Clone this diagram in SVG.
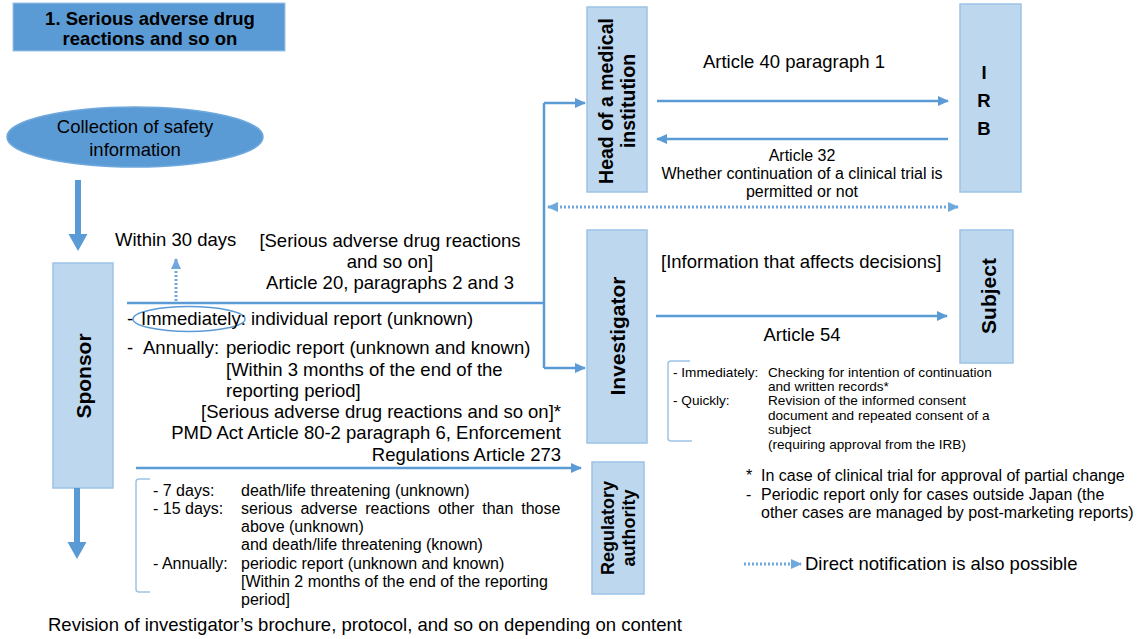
<svg xmlns="http://www.w3.org/2000/svg" width="1138" height="639" viewBox="0 0 1138 639">
<style>
text{font-family:"Liberation Sans",Arial,sans-serif;fill:#000}
.t{font-size:18.5px}
.s{font-size:16px}
.xs{font-size:13.6px}
.b{font-weight:bold}
.c{text-anchor:middle}
.e{text-anchor:end}
.box{fill:#bdd7ee;stroke:#9dc3e6;stroke-width:1.5}
.ln{fill:none;stroke:#5b9bd5;stroke-width:2.5}
.dot{fill:none;stroke:#6fa8dc;stroke-width:3;stroke-dasharray:2 2}
.br{fill:none;stroke:#9dc3e6;stroke-width:1.5}
</style>
<defs>
<marker id="ah" markerUnits="userSpaceOnUse" markerWidth="11" markerHeight="10" refX="10" refY="5" orient="auto-start-reverse">
<path d="M0,0 L11,5 L0,10 z" fill="#5b9bd5"/>
</marker>
<marker id="ahd" markerUnits="userSpaceOnUse" markerWidth="11" markerHeight="10" refX="10" refY="5" orient="auto-start-reverse">
<path d="M0,0 L11,5 L0,10 z" fill="#6fa8dc"/>
</marker>
</defs>
<rect width="1138" height="639" fill="#fff"/>

<g id="title">
<rect x="13" y="3" width="272" height="48" fill="#5b9bd5" stroke="#9dc3e6" stroke-width="1"/>
<text class="t b c" x="150" y="25">1. Serious adverse drug</text>
<text class="t b c" x="150" y="45">reactions and so on</text>
</g>

<g id="collection">
<ellipse cx="135" cy="137" rx="128" ry="30" fill="#5b9bd5" stroke="#6fa8dc" stroke-width="1.5"/>
<text class="t c" x="135" y="133">Collection of safety</text>
<text class="t c" x="135" y="156">information</text>
</g>

<g id="sponsor">
<rect class="box" x="53" y="263" width="60" height="225"/>
<text class="b c" font-size="21" transform="translate(83,376) rotate(-90)" y="7.5">Sponsor</text>
</g>

<g id="head">
<rect class="box" x="587" y="7" width="60" height="185"/>
<text class="b c" font-size="19.5" transform="translate(617,101) rotate(-90)" y="-4.5">Head of a medical</text>
<text class="b c" font-size="19.5" transform="translate(617,101) rotate(-90)" y="18">institution</text>
</g>

<g id="irb">
<rect class="box" x="960" y="4" width="61" height="188"/>
<text class="t b c" x="984" y="79">I</text>
<text class="t b c" x="984" y="107">R</text>
<text class="t b c" x="984" y="135">B</text>
</g>

<g id="investigator">
<rect class="box" x="587" y="230" width="60" height="213"/>
<text class="b c" font-size="21" transform="translate(617,336) rotate(-90)" y="7.5">Investigator</text>
</g>

<g id="subject">
<rect class="box" x="960" y="230" width="53" height="133"/>
<text class="b c" font-size="21" transform="translate(988,296) rotate(-90)" y="7.5">Subject</text>
</g>

<g id="regulatory">
<rect class="box" x="592" y="462" width="52" height="132"/>
<text class="b c" font-size="18" transform="translate(618,528) rotate(-90)" y="-4">Regulatory</text>
<text class="b c" font-size="18" transform="translate(618,528) rotate(-90)" y="16.5">authority</text>
</g>

<g id="connectors">
<path d="M75,180 H81 V234 H87.5 L78,251 L68.5,234 H75 Z" fill="#5b9bd5"/>
<path d="M74,488 H80 V542 H86.5 L77,559 L67.5,542 H74 Z" fill="#5b9bd5"/>
<path class="ln" d="M127,303 H544"/>
<path class="ln" d="M544,103 V368"/>
<path class="ln" d="M544,103 H585" marker-end="url(#ah)"/>
<path class="ln" d="M544,368 H585" marker-end="url(#ah)"/>
<path class="dot" d="M176,301 V259" marker-end="url(#ahd)"/>
<path class="ln" d="M657,101 H948" marker-end="url(#ah)"/>
<path class="ln" d="M948,139 H657" marker-end="url(#ah)"/>
<path class="dot" d="M548,207 H958" marker-start="url(#ahd)" marker-end="url(#ahd)"/>
<path class="ln" d="M656,316 H947" marker-end="url(#ah)"/>
<path class="ln" d="M136,468 H581" marker-end="url(#ah)"/>
</g>

<g id="labels">
<text class="t" x="115" y="246">Within 30 days</text>
<text class="t c" x="390" y="247">[Serious adverse drug reactions</text>
<text class="t c" x="390" y="268">and so on]</text>
<text class="t c" x="390" y="289">Article 20, paragraphs 2 and 3</text>

<ellipse cx="189" cy="319" rx="56" ry="12.5" fill="none" stroke="#5b9bd5" stroke-width="1.5"/>
<text class="t" x="127" y="325">-</text>
<text class="t" x="141" y="325">Immediately: individual report (unknown)</text>
<text class="t" x="127" y="354">-</text>
<text class="t" x="143" y="354">Annually:</text>
<text class="t" x="226" y="354">periodic report (unknown and known)</text>
<text class="t" x="226" y="376">[Within 3 months of the end of the</text>
<text class="t" x="226" y="397">reporting period]</text>
<text class="t e" x="561" y="418">[Serious adverse drug reactions and so on]*</text>
<text class="t e" x="561" y="439">PMD Act Article 80-2 paragraph 6, Enforcement</text>
<text class="t e" x="561" y="461">Regulations Article 273</text>

<path class="br" d="M150,479 H139 Q136,479 136,482 V589 Q136,592 139,592 H150"/>
<text class="s" x="153" y="496">- 7 days:</text>
<text class="s" x="241" y="496">death/life threatening (unknown)</text>
<text class="s" x="153" y="514">- 15 days:</text>
<text class="s" x="241" y="514" word-spacing="3.4">serious adverse reactions other than those</text>
<text class="s" x="241" y="532">above (unknown)</text>
<text class="s" x="241" y="550">and death/life threatening (known)</text>
<text class="s" x="153" y="569">- Annually:</text>
<text class="s" x="241" y="569">periodic report (unknown and known)</text>
<text class="s" x="241" y="587">[Within 2 months of the end of the reporting</text>
<text class="s" x="241" y="605">period]</text>

<text class="t" x="48" y="631">Revision of investigator’s brochure, protocol, and so on depending on content</text>

<text class="t c" x="794" y="68">Article 40 paragraph 1</text>
<text class="s c" x="802" y="161">Article 32</text>
<text class="s c" x="802" y="179">Whether continuation of a clinical trial is</text>
<text class="s c" x="802" y="197">permitted or not</text>

<text class="t" x="661" y="268">[Information that affects decisions]</text>
<text class="t c" x="802" y="341">Article 54</text>

<path class="br" d="M690,361 H671 Q668,361 668,364 V438 Q668,441 671,441 H692"/>
<text class="xs" x="673" y="377">- Immediately:</text>
<text class="xs" x="768" y="377">Checking for intention of continuation</text>
<text class="xs" x="768" y="391">and written records*</text>
<text class="xs" x="673" y="405">- Quickly:</text>
<text class="xs" x="768" y="405">Revision of the informed consent</text>
<text class="xs" x="768" y="420">document and repeated consent of a</text>
<text class="xs" x="768" y="434">subject</text>
<text class="xs" x="768" y="449">(requiring approval from the IRB)</text>

<text class="s" x="746" y="481">*</text>
<text class="s" x="761" y="481">In case of clinical trial for approval of partial change</text>
<text class="s" x="746" y="500">-</text>
<text class="s" x="761" y="500">Periodic report only for cases outside Japan (the</text>
<text class="s" x="761" y="518">other cases are managed by post-marketing reports)</text>
</g>

<g id="legend">
<path class="dot" d="M744,564 H801" marker-end="url(#ahd)"/>
<text class="t" x="805" y="570">Direct notification is also possible</text>
</g>
</svg>
